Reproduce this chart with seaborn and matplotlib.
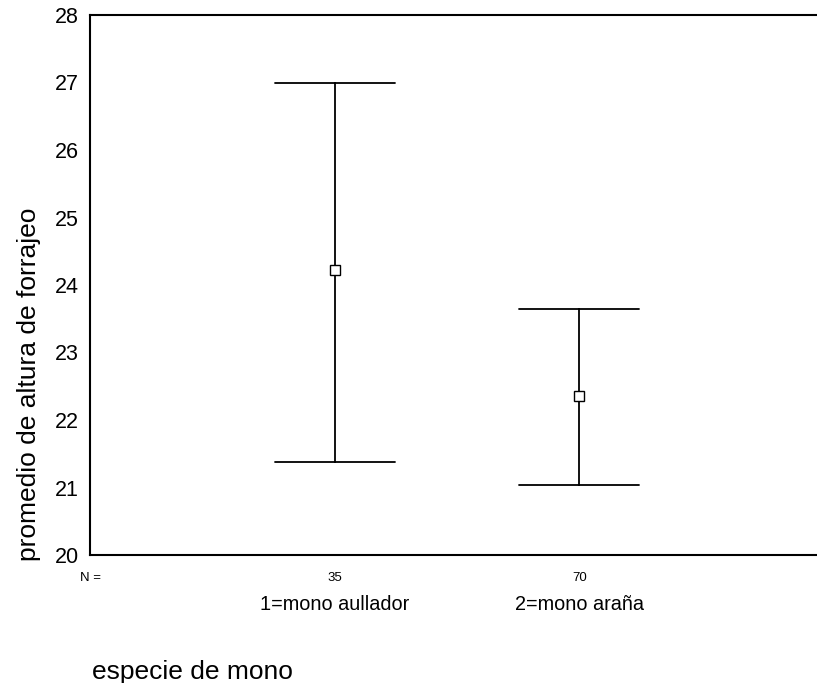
import numpy as np
import pandas as pd
import matplotlib
matplotlib.use("Agg")
import matplotlib.pyplot as plt
import seaborn as sns

# Data
categories = ["1=mono aullador", "2=mono araña"]
n_labels = ["35", "70"]
means = [24.22, 22.36]
lower = [21.38, 21.04]
upper = [27.00, 23.64]

sns.set_theme(style="white")
plt.rcParams["font.family"] = ["Liberation Sans", "DejaVu Sans"]
plt.rcParams["text.color"] = "black"
plt.rcParams["axes.labelcolor"] = "black"
plt.rcParams["xtick.color"] = "black"
plt.rcParams["ytick.color"] = "black"

rows = []
for c, lo, m, hi in zip(categories, lower, means, upper):
    for v in (lo, m, hi):
        rows.append({"especie": c, "valor": v})
df = pd.DataFrame(rows)

fig = plt.figure(figsize=(8.17, 6.83), dpi=100)
ax = fig.add_axes([90 / 817, 1 - 555 / 683, 1 - 90 / 817, (555 - 15) / 683])

sns.pointplot(data=df, x="especie", y="valor", order=categories,
              estimator=np.median, errorbar=lambda x: (x.min(), x.max()),
              linestyle="none", color="black", capsize=0.49,
              err_kws={"linewidth": 1.3}, markers="s", markersize=7,
              ax=ax)
for line in ax.lines:
    if line.get_marker() == "s":
        line.set_markerfacecolor("white")
        line.set_markeredgecolor("black")
        line.set_markeredgewidth(1.0)
        line.set_zorder(5)

ax.set_xlim(-1.0, (817 - 336) / 244)
ax.set_ylim(20, 28)
ax.set_yticks(range(20, 29))
ax.set_yticklabels([str(v) for v in range(20, 29)], fontsize=15.5, color="black")
ax.set_xticks([-1, 0, 1])
ax.set_xticklabels(["N ="] + n_labels, fontsize=9.5, color="black")
ax.tick_params(axis="both", direction="out", length=3, width=1.5, color="black", pad=5)
ax.tick_params(axis="x", pad=9)

for s in ["left", "top", "bottom"]:
    ax.spines[s].set_visible(True)
    ax.spines[s].set_color("black")
    ax.spines[s].set_linewidth(1.5)
ax.spines["right"].set_visible(False)

ax.set_xlabel("")
ax.set_ylabel("")
fig.text(29 / 817, 1 - 384 / 683, "promedio de altura de forrajeo", rotation=90,
         ha="center", va="center", fontsize=19, color="black")

trans = matplotlib.transforms.blended_transform_factory(ax.transData, fig.transFigure)
for i, c in enumerate(categories):
    ax.text(i, 1 - 610 / 683, c, transform=trans, ha="center", va="baseline",
            fontsize=14.3, color="black")

fig.text(92 / 817, 1 - 679 / 683, "especie de mono", ha="left", va="baseline",
         fontsize=19, color="black")

fig.savefig("out.png", dpi=100, facecolor="white")
